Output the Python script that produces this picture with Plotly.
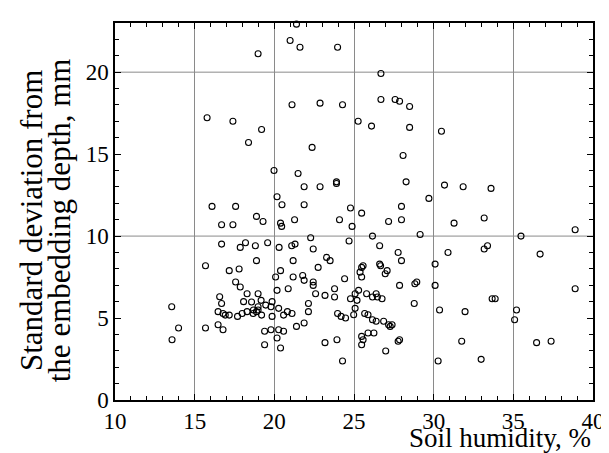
import plotly.graph_objects as go

humidity = [21.39, 20.99, 21.61, 18.98, 23.97, 26.69, 26.69, 27.58, 27.86, 28.49,
            21.11, 22.87, 24.28, 15.78, 17.40, 25.26, 26.10, 28.49, 19.20, 30.49,
            18.38, 22.37, 28.08, 19.98, 21.49, 23.90, 23.90, 28.27, 30.68, 21.87,
            22.87, 31.85, 33.60, 20.17, 29.70, 16.09, 17.57, 21.87, 20.48, 27.98,
            24.78, 25.48, 18.88, 33.17, 19.29, 21.27, 24.09, 27.98, 27.17, 31.28,
            16.69, 17.40, 20.39, 20.46, 24.88, 38.88, 29.15, 26.16, 35.48, 22.28,
            24.69, 16.69, 18.19, 17.86, 18.81, 19.58, 20.30, 21.09, 21.30, 22.44,
            26.61, 33.38, 33.17, 27.77, 30.90, 36.68, 23.28, 23.50, 18.88, 21.18,
            27.98, 15.68, 25.57, 25.48, 26.61, 26.67, 22.75, 30.09, 17.79, 17.17,
            20.39, 25.38, 27.08, 26.96, 20.08, 21.18, 21.78, 25.48, 24.41, 21.87,
            17.57, 22.44, 22.44, 28.94, 28.82, 17.86, 27.86, 30.09, 23.78, 20.87,
            20.17, 25.29, 38.88, 18.29, 18.98, 22.59, 25.07, 25.79, 26.39, 23.18,
            23.78, 26.16, 26.47, 26.76, 16.57, 24.78, 25.19, 33.67, 33.86, 19.17,
            19.86, 18.07, 18.57, 16.69, 19.46, 22.14, 28.78, 13.56, 18.98, 19.79,
            20.27, 18.69, 18.98, 25.07, 30.37, 35.20, 16.47, 18.29, 18.88, 17.98,
            20.82, 22.14, 21.11, 23.97, 25.67, 31.97, 16.78, 16.92, 17.17, 17.69,
            18.67, 19.20, 20.58, 19.86, 25.88, 24.98, 24.19, 24.47, 26.16, 26.39,
            35.08, 26.86, 27.17, 27.39, 27.27, 21.87, 16.47, 21.39, 13.99, 15.68,
            16.78, 19.39, 19.79, 20.27, 20.58, 25.88, 26.25, 25.48, 25.57, 25.48,
            13.58, 20.17, 23.93, 23.18, 19.39, 20.39, 27.86, 27.77, 31.76, 36.46,
            37.37, 26.99, 24.28, 30.28, 32.98]

std_dev = [22.93, 21.93, 21.52, 21.12, 21.52, 19.92, 18.33, 18.33, 18.23, 17.91,
           18.01, 18.11, 18.01, 17.22, 17.01, 17.01, 16.71, 16.63, 16.50, 16.40,
           15.71, 15.41, 14.92, 14.00, 13.82, 13.31, 13.21, 13.31, 13.11, 13.01,
           13.01, 13.01, 12.91, 12.40, 12.30, 11.81, 11.81, 11.91, 11.91, 11.81,
           11.71, 11.40, 11.20, 11.10, 10.89, 11.00, 11.00, 11.00, 10.89, 10.79,
           10.69, 10.69, 10.79, 10.59, 10.59, 10.39, 10.10, 10.00, 10.00, 9.90,
           9.70, 9.51, 9.59, 9.31, 9.41, 9.59, 9.31, 9.41, 9.51, 9.21,
           9.41, 9.41, 9.21, 9.00, 9.00, 8.90, 8.70, 8.50, 8.50, 8.50,
           8.50, 8.19, 8.19, 8.09, 8.29, 8.19, 8.09, 8.29, 7.99, 7.89,
           7.89, 7.80, 7.89, 7.70, 7.50, 7.50, 7.60, 7.50, 7.40, 7.30,
           7.20, 7.20, 6.99, 7.20, 7.09, 6.89, 6.99, 6.99, 6.79, 6.79,
           6.69, 6.69, 6.79, 6.48, 6.48, 6.48, 6.48, 6.48, 6.48, 6.38,
           6.28, 6.28, 6.28, 6.18, 6.30, 6.18, 6.08, 6.18, 6.18, 6.08,
           6.00, 6.00, 5.98, 5.89, 5.79, 5.89, 5.89, 5.69, 5.69, 5.69,
           5.59, 5.49, 5.49, 5.59, 5.49, 5.49, 5.39, 5.39, 5.39, 5.28,
           5.39, 5.39, 5.28, 5.28, 5.28, 5.39, 5.28, 5.18, 5.18, 5.10,
           5.28, 5.18, 5.18, 5.10, 5.20, 5.20, 5.10, 5.00, 4.90, 4.80,
           4.90, 4.80, 4.59, 4.59, 4.49, 4.70, 4.59, 4.49, 4.39, 4.39,
           4.29, 4.19, 4.29, 4.29, 4.19, 4.09, 4.09, 3.88, 3.68, 3.37,
           3.68, 3.78, 3.68, 3.50, 3.37, 3.17, 3.68, 3.58, 3.58, 3.50,
           3.58, 2.99, 2.38, 2.38, 2.48]

x_ticks = [10, 15, 20, 25, 30, 35, 40]
y_ticks = [0, 5, 10, 15, 20]
y_grid = [10, 20]

x_title = "Soil humidity, %"
y_title_lines = ["Standard deviation from", "the embedding depth, mm"]

FAMILY = "Liberation Serif"
tick_font = dict(family=FAMILY, size=23, color="black")
x_title_font = dict(family=FAMILY, size=27, color="black")
y_title_font = dict(family=FAMILY, size=31, color="black")

fig = go.Figure()
fig.add_trace(go.Scatter(
    x=humidity, y=std_dev, mode="markers",
    marker=dict(symbol="circle-open", size=6, color="black", line=dict(width=1.1)),
    cliponaxis=False, showlegend=False,
))

for g in y_grid:
    fig.add_shape(type="line", xref="paper", x0=0, x1=1, yref="y", y0=g, y1=g,
                  line=dict(color="#8a8a8a", width=1), layer="below")

fig.update_xaxes(
    range=[10, 40], tickvals=x_ticks, ticks="inside", ticklen=6, tickcolor="black",
    showgrid=True, gridcolor="#8a8a8a", gridwidth=1,
    showline=True, linecolor="black", linewidth=1.5, mirror="allticks",
    zeroline=False, tickfont=tick_font,
    minor=dict(dtick=1, ticks="inside", ticklen=4, tickcolor="black", showgrid=False),
)
fig.update_yaxes(
    range=[0, 23], tickvals=y_ticks, ticks="inside", ticklen=6, tickcolor="black",
    showgrid=False, showline=True, linecolor="black", linewidth=1.5, mirror="allticks",
    zeroline=False, tickfont=tick_font,
    minor=dict(dtick=1, ticks="inside", ticklen=4, tickcolor="black", showgrid=False),
)

fig.add_annotation(text=x_title, xref="paper", yref="paper", x=1.0, y=-0.147,
                   xanchor="right", yanchor="bottom", showarrow=False, font=x_title_font)
for xp, line in zip([-0.176, -0.117], y_title_lines):
    fig.add_annotation(text=line, xref="paper", yref="paper", x=xp, y=0.477,
                       xanchor="center", yanchor="middle", textangle=-90,
                       showarrow=False, font=y_title_font)

fig.update_layout(
    width=609, height=453,
    margin=dict(l=107, r=13, t=15, b=61),
    paper_bgcolor="white", plot_bgcolor="white",
    font=tick_font,
)

fig.write_html("out.html")
